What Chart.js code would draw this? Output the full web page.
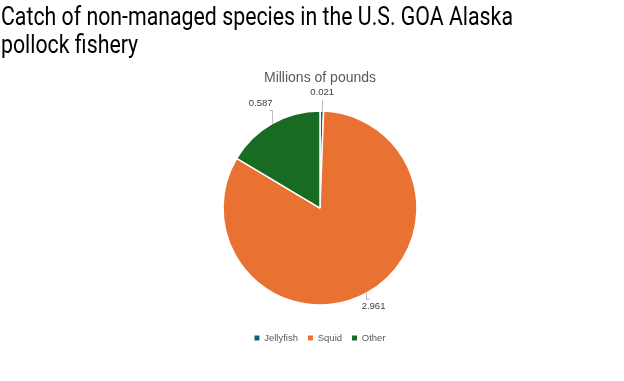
<!DOCTYPE html>
<html>
<head>
<meta charset="utf-8">
<script src="https://cdn.jsdelivr.net/npm/chart.js@4"></script>
<style>
  html, body { margin: 0; padding: 0; background: #fff; }
  #wrap { position: relative; width: 624px; height: 381px; overflow: hidden; }
  #title { position: absolute; left: 1px; top: 2.5px; font-family: Roboto, "Liberation Sans", sans-serif; font-size: 25px; line-height: 28px; color: #000; white-space: nowrap; transform-origin: 0 0; }
  canvas { position: absolute; left: 0; top: 0; }
</style>
</head>
<body>
<div id="wrap">
  <canvas id="c" width="624" height="381"></canvas>
  <div id="title"><span id="t1">Catch of non-managed species in the U.S. GOA Alaska</span><br>pollock fishery</div>
</div>
<script>
const categories = ["Jellyfish", "Squid", "Other"];
const values = [0.021, 2.961, 0.587];
const valueLabels = ["0.021", "2.961", "0.587"];
const colors = ["#156082", "#E97132", "#196B24"];

// fit title width to the reference (first line ~512px wide)
(function () {
  const t1 = document.getElementById('t1');
  const w = t1.getBoundingClientRect().width;
  if (w > 0) document.getElementById('title').style.transform = 'scaleX(' + (512 / w) + ')';
})();

const labelFont = '9.5px "Liberation Sans", Arial, sans-serif';

const labelPlugin = {
  id: 'outLabels',
  afterDatasetsDraw(chart) {
    const ctx = chart.ctx;
    const meta = chart.getDatasetMeta(0);
    ctx.save();
    ctx.font = labelFont;
    ctx.fillStyle = '#404040';
    ctx.strokeStyle = '#bfbfbf';
    ctx.lineWidth = 1;
    ctx.textAlign = 'center';
    ctx.textBaseline = 'middle';
    meta.data.forEach((arc, i) => {
      const p = arc.getProps(['x','y','startAngle','endAngle','outerRadius'], true);
      const mid = (p.startAngle + p.endAngle) / 2;
      const cx = Math.cos(mid), cy = Math.sin(mid);
      const r = p.outerRadius;
      const tw = ctx.measureText(valueLabels[i]).width;
      const ext = (tw / 2) * Math.abs(cx) + 5 * Math.abs(cy);
      const d = (cy < 0 ? 13 : 5) + ext;
      const x0 = p.x + cx * r, y0 = p.y + cy * r;
      const lx = p.x + cx * (r + d), ly = p.y + cy * (r + d);
      // elbow leader: vertical from slice edge, then toward the label
      const ey = ly - Math.sign(cy) * 7;
      const xl = Math.round(x0) + 0.5;
      ctx.beginPath();
      ctx.moveTo(xl, y0);
      ctx.lineTo(xl, ey);
      if (Math.abs(lx - x0) > 6) {
        ctx.lineTo(xl - Math.sign(x0 - lx) * 3, ey);
      }
      ctx.stroke();
      ctx.fillText(valueLabels[i], lx, ly);
    });
    ctx.restore();
  }
};

new Chart(document.getElementById('c'), {
  type: 'pie',
  data: {
    labels: categories,
    datasets: [{
      data: values,
      backgroundColor: colors,
      borderColor: '#ffffff',
      borderWidth: 1.5
    }]
  },
  options: {
    responsive: false,
    animation: false,
    layout: { padding: { left: 16, top: 64, bottom: 28.25 } },
    plugins: {
      title: { display: false },
      subtitle: {
        display: true,
        text: 'Millions of pounds',
        color: '#595959',
        font: { family: '"Liberation Sans", Arial, sans-serif', size: 14, weight: 'normal' },
        padding: { top: 6, bottom: 23.5 }
      },
      legend: {
        position: 'bottom',
        title: { display: true, text: '', font: { size: 1 }, padding: { top: 16.3, bottom: 0 } },
        labels: {
          boxWidth: 5, boxHeight: 5,
          color: '#595959',
          font: { family: '"Liberation Sans", Arial, sans-serif', size: 9.5 },
          padding: 10,
          generateLabels(chart) {
            const items = Chart.overrides.pie.plugins.legend.labels.generateLabels(chart);
            return items.map(it => Object.assign(it, { lineWidth: 0, strokeStyle: it.fillStyle }));
          }
        }
      },
      tooltip: { enabled: false }
    }
  },
  plugins: [labelPlugin]
});
</script>
</body>
</html>
